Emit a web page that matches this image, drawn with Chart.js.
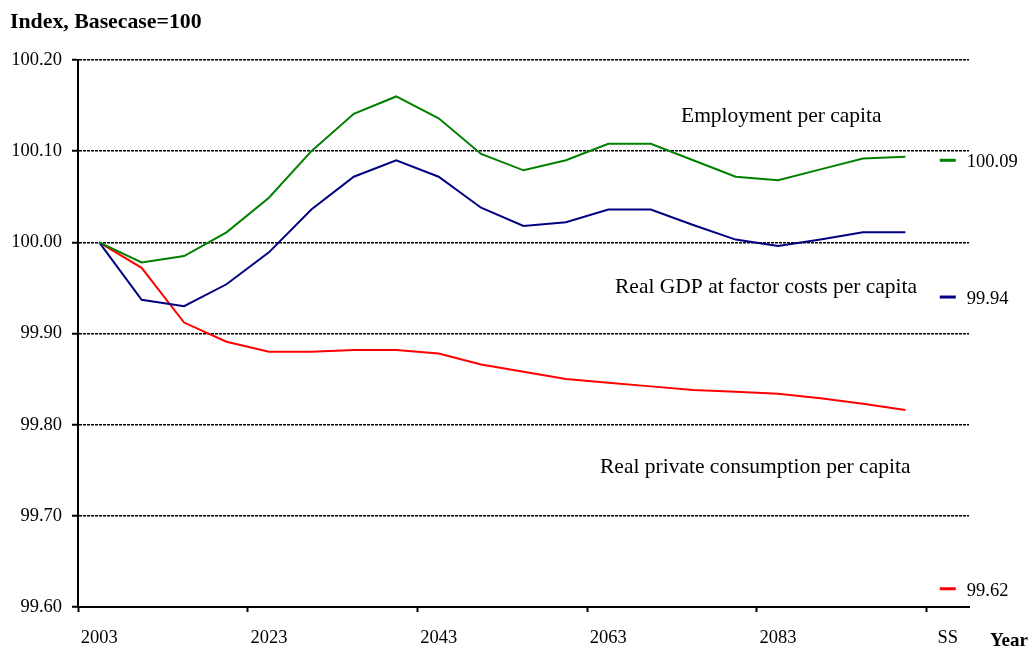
<!DOCTYPE html>
<html><head><meta charset="utf-8">
<script src="https://cdn.jsdelivr.net/npm/chart.js@4.4.1/dist/chart.umd.min.js"></script>
<style>html,body{margin:0;padding:0;background:#fff;}#wrap{width:1032px;height:651px;position:relative;}</style>
</head><body><div id="wrap"><canvas id="c"></canvas></div>
<script>
const categories = ['2003','2008','2013','2018','2023','2028','2033','2038','2043','2048','2053','2058','2063','2068','2073','2078','2083','2088','2093','2098','SS'];
const employment = [100.000, 99.978, 99.985, 100.011, 100.049, 100.100, 100.141, 100.160, 100.136, 100.097, 100.079, 100.090, 100.108, 100.108, 100.090, 100.072, 100.068, 100.080, 100.092, 100.094];
const gdp = [100.000, 99.937, 99.930, 99.954, 99.989, 100.036, 100.072, 100.090, 100.072, 100.038, 100.018, 100.022, 100.036, 100.036, 100.019, 100.003, 99.996, 100.003, 100.011, 100.011];
const consumption = [100.000, 99.972, 99.912, 99.891, 99.880, 99.880, 99.882, 99.882, 99.878, 99.866, 99.858, 99.850, 99.846, 99.842, 99.838, 99.836, 99.834, 99.829, 99.823, 99.816];
const ssEmployment = 100.09;
const ssGdp = 99.94;
const ssConsumption = 99.62;
const seriesNames = ['Employment per capita', 'Real GDP at factor costs per capita', 'Real private consumption per capita'];
const yTicksMin = 99.6, yTicksMax = 100.2, yStep = 0.1;

const GREEN = '#008000', BLUE = '#000080', RED = '#ff0000';
const SERIF = '"Liberation Serif", "Times New Roman", serif';

function lineData(arr){ return arr.concat([null]); }
function ssData(v){ return new Array(categories.length - 1).fill(null).concat([v]); }

const textPlugin = {
  id: 'texts',
  afterDraw(chart){
    const ctx = chart.ctx;
    const xs = chart.scales.x, ys = chart.scales.y;
    ctx.save();
    ctx.fillStyle = '#000';
    ctx.textAlign = 'left';
    ctx.textBaseline = 'alphabetic';
    ctx.font = 'bold 21.8px ' + SERIF;
    ctx.fillText('Index, Basecase=100', 10, 28);
    ctx.font = 'bold 19px ' + SERIF;
    ctx.fillText('Year', 990, 646);
    ctx.font = '21.5px ' + SERIF;
    ctx.fillText(seriesNames[0], 681, 122);
    ctx.fillText(seriesNames[1], 615, 293);
    ctx.fillText(seriesNames[2], 600, 473);
    ctx.font = '18.5px ' + SERIF;
    ctx.textBaseline = 'middle';
    const sx = xs.getPixelForValue(categories.length - 1) + 19;
    [ssEmployment, ssGdp, ssConsumption].forEach(v => {
      ctx.fillText(v.toFixed(2), sx, ys.getPixelForValue(v) + 2);
    });
    ctx.restore();
  }
};

new Chart(document.getElementById('c'), {
  type: 'line',
  data: {
    labels: categories,
    datasets: [
      {label: seriesNames[0], data: lineData(employment), borderColor: GREEN, borderWidth: 2, pointRadius: 0, tension: 0, spanGaps: false},
      {label: seriesNames[1], data: lineData(gdp), borderColor: BLUE, borderWidth: 2, pointRadius: 0, tension: 0, spanGaps: false},
      {label: seriesNames[2], data: lineData(consumption), borderColor: RED, borderWidth: 2, pointRadius: 0, tension: 0, spanGaps: false},
      {label: 'SS1', data: ssData(ssEmployment), showLine: false, pointStyle: 'line', pointRadius: 8, pointBorderWidth: 3, pointBorderColor: GREEN, borderColor: GREEN},
      {label: 'SS2', data: ssData(ssGdp), showLine: false, pointStyle: 'line', pointRadius: 8, pointBorderWidth: 3, pointBorderColor: BLUE, borderColor: BLUE},
      {label: 'SS3', data: ssData(ssConsumption), showLine: false, pointStyle: 'line', pointRadius: 8, pointBorderWidth: 3, pointBorderColor: RED, borderColor: RED}
    ]
  },
  options: {
    responsive: true,
    maintainAspectRatio: false,
    animation: false,
    events: [],
    layout: {padding: {left: 0, right: 63, top: 60, bottom: 0}},
    plugins: {legend: {display: false}, tooltip: {enabled: false}, title: {display: false}},
    scales: {
      x: {
        type: 'category',
        offset: true,
        afterFit(s){ s.height = 44; },
        grid: {
          offset: true,
          drawOnChartArea: false,
          drawTicks: true,
          tickLength: 5,
          tickWidth: 2,
          tickColor: (c) => (c.index !== undefined && c.index % 4 === 0) ? '#000' : 'rgba(0,0,0,0)'
        },
        border: {display: true, color: '#000', width: 2},
        ticks: {
          autoSkip: false,
          maxRotation: 0,
          minRotation: 0,
          padding: 15,
          color: '#000',
          font: {family: SERIF, size: 18.5},
          callback: function(v, i){ return i % 4 === 0 ? this.getLabelForValue(v) : ''; }
        }
      },
      y: {
        min: yTicksMin,
        max: yTicksMax,
        afterFit(s){ s.width = 78; },
        grid: {
          color: '#000',
          lineWidth: 1.5,
          drawTicks: true,
          tickLength: 6,
          tickWidth: 2,
          tickColor: '#000',
          tickBorderDash: []
        },
        border: {display: true, color: '#000', width: 2, dash: [3, 1]},
        ticks: {
          stepSize: yStep,
          padding: 10,
          color: '#000',
          font: {family: SERIF, size: 18.5},
          callback: (v) => Number(v).toFixed(2)
        }
      }
    }
  },
  plugins: [textPlugin]
});
</script></body></html>
